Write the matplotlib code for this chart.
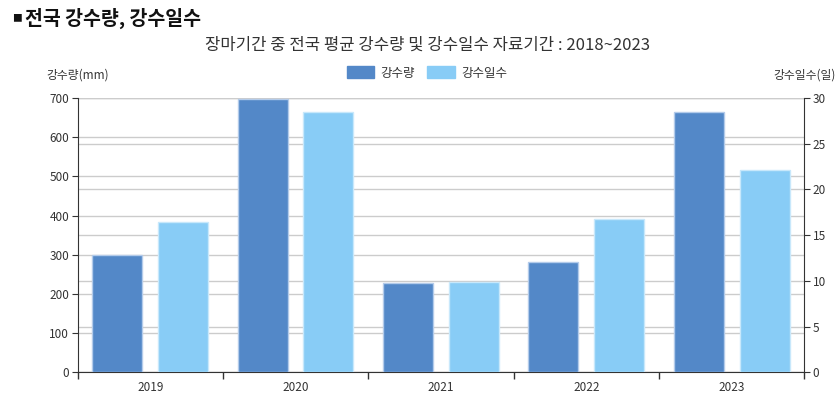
import numpy as np
import matplotlib
matplotlib.use("Agg")
import matplotlib.pyplot as plt

plt.rcParams['font.family'] = ['Noto Sans CJK KR', 'DejaVu Sans']

years = ['2019', '2020', '2021', '2022', '2023']
rain_mm = [299, 697, 227, 282, 663]
rain_days = [16.4, 28.5, 9.9, 16.8, 22.1]

rain_color = '#5388c8'
days_color = '#88ccf6'
text_color = '#333333'
grid_color = '#cccccc'

fig = plt.figure(figsize=(8.37, 3.95), dpi=100)
pos = [0.0926, 0.057, 0.8684, 0.695]

# background axes only for right-axis gridlines
ax_bg = fig.add_axes(pos, zorder=-1)
ax_bg.set_ylim(0, 30)
ax_bg.set_yticks(range(0, 31, 5))
ax_bg.set_xticks([])
ax_bg.yaxis.grid(True, color=grid_color, linewidth=1)
ax_bg.tick_params(left=False, labelleft=False)
for s in ax_bg.spines.values():
    s.set_visible(False)

ax = fig.add_axes(pos)
ax.patch.set_visible(False)
x = np.arange(len(years))
off = 0.226
w = 0.344
ax.bar(x - off, rain_mm, width=w, color=rain_color, edgecolor='#b3cbea', linewidth=1, zorder=3)
ax.set_ylim(0, 700)
ax.set_yticks(range(0, 701, 100))
ax.set_xlim(-0.5, len(years) - 0.5)
ax.yaxis.grid(True, color=grid_color, linewidth=1)
ax.set_axisbelow(True)

ax.set_xticks(np.arange(-0.5, len(years), 1.0))
ax.set_xticklabels([])
ax.set_xticks(x, minor=True)
ax.set_xticklabels(years, minor=True)
ax.tick_params(axis='x', which='major', length=5, color=text_color, width=1)
ax.tick_params(axis='x', which='minor', length=0, pad=6, labelsize=8.5, labelcolor=text_color)
ax.tick_params(axis='y', length=4, color=text_color, labelsize=8.5, labelcolor=text_color, pad=2)

ax.spines['top'].set_visible(False)
ax.spines['right'].set_visible(False)
ax.spines['left'].set_color(text_color)
ax.spines['bottom'].set_color(text_color)

ax2 = ax.twinx()
ax2.bar(x + off, rain_days, width=w, color=days_color, edgecolor='#c8e8fb', linewidth=1, zorder=3)
ax2.set_ylim(0, 30)
ax2.set_yticks(range(0, 31, 5))
ax2.tick_params(axis='y', length=4, color=text_color, labelsize=8.5, labelcolor=text_color, pad=2)
ax2.spines['top'].set_visible(False)
ax2.spines['left'].set_visible(False)
ax2.spines['bottom'].set_visible(False)
ax2.spines['right'].set_color(text_color)

# titles and axis names
fig.text(12 / 837, 1 - 18 / 395, '■', fontsize=7, color='#111111', va='center', ha='left')
fig.text(25 / 837, 1 - 18 / 395, '전국 강수량, 강수일수', fontsize=14, fontweight='bold',
         color='#111111', va='center', ha='left')
fig.text(428 / 837, 1 - 45 / 395, '장마기간 중 전국 평균 강수량 및 강수일수 자료기간 : 2018~2023',
         fontsize=12, color=text_color, va='center', ha='center')
fig.text(46 / 837, 1 - 75 / 395, '강수량(mm)', fontsize=8.5, color=text_color, va='center', ha='left')
fig.text(836 / 837, 1 - 75 / 395, '강수일수(일)', fontsize=8.5, color=text_color, va='center', ha='right')

# legend
handles = [plt.Rectangle((0, 0), 1, 1, color=rain_color),
           plt.Rectangle((0, 0), 1, 1, color=days_color)]
fig.legend(handles, ['강수량', '강수일수'], loc='center', bbox_to_anchor=(427 / 837, 1 - 73 / 395),
           ncol=2, frameon=False, fontsize=9, handlelength=2.2, handleheight=1.1,
           handletextpad=0.5, columnspacing=1.0, labelcolor=text_color)

fig.savefig('out.png', dpi=100)
